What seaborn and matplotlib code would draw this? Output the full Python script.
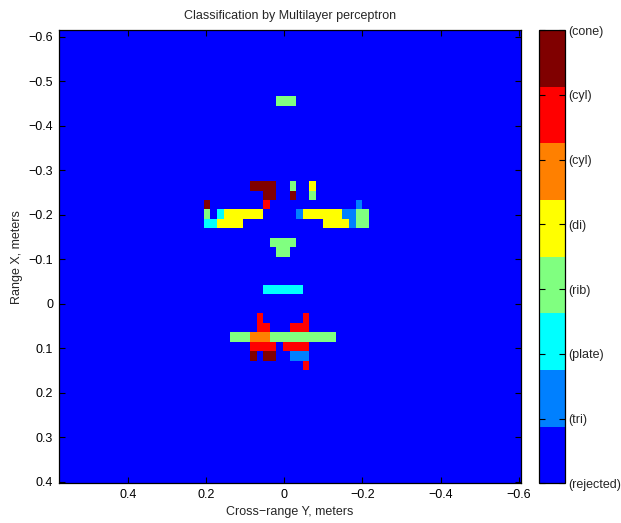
import numpy as np
import matplotlib
matplotlib.use("Agg")
import matplotlib.pyplot as plt
from matplotlib.colors import ListedColormap
import seaborn as sns

# Grid of classified cells (rows top->bottom, cols left->right)
n_rows = 48
n_cols = 70

# axis value at the edges of the image
x_left, x_right = 0.577, -0.605
y_top, y_bottom = -0.615, 0.404

class_labels = ['(rejected)', '(tri)', '(plate)', '(rib)', '(di)', '(cyl)', '(cyl)', '(cone)']
class_colors = ['#0000ff', '#0080ff', '#00ffff', '#80ff80',
                '#ffff00', '#ff8000', '#ff0000', '#800000']

# runs of cells that are not rejected: row, first col, last col, class
run_row = [7, 16, 16, 16, 17, 17, 17, 18, 18, 18,
           19, 19, 19, 19, 19, 19, 19, 19,
           20, 20, 20, 20, 20, 22, 23, 27,
           30, 30, 31, 31, 32, 32, 32, 33, 33, 34, 34, 34, 35]
run_first = [33, 29, 35, 38, 31, 35, 38, 22, 31, 45,
             22, 24, 25, 36, 37, 43, 45, 46,
             22, 24, 40, 44, 45, 32, 33, 31,
             30, 37, 30, 35, 26, 29, 32, 29, 34, 29, 31, 35, 37]
run_last = [35, 32, 35, 38, 32, 35, 38, 22, 31, 45,
            22, 24, 30, 36, 42, 44, 45, 46,
            23, 27, 43, 44, 46, 35, 34, 36,
            30, 37, 31, 37, 28, 31, 41, 32, 37, 29, 32, 37, 37]
run_class = [3, 7, 3, 4, 7, 7, 3, 7, 6, 1,
             3, 2, 4, 1, 4, 1, 3, 3,
             2, 4, 4, 1, 3, 3, 3, 2,
             6, 6, 6, 6, 3, 5, 3, 6, 6, 7, 7, 1, 6]

grid = np.zeros((n_rows, n_cols), dtype=int)
for r, c0, c1, k in zip(run_row, run_first, run_last, run_class):
    grid[r, c0:c1 + 1] = k

x_ticks = [0.4, 0.2, 0.0, -0.2, -0.4, -0.6]
y_ticks = [-0.6, -0.5, -0.4, -0.3, -0.2, -0.1, 0.0, 0.1, 0.2, 0.3, 0.4]


def fmt(v):
    s = '%g' % round(v, 2)
    return s.replace('-', '\u2212')


sns.set_style('white')
plt.rcParams['font.family'] = ['Liberation Sans', 'DejaVu Sans']
plt.rcParams['font.size'] = 9

fig = plt.figure(figsize=(6.21, 5.23), dpi=100)
ax = fig.add_axes([0.0945, 0.0759, 0.744, 0.8667])
cax = fig.add_axes([0.8685, 0.0759, 0.0414, 0.8667])

cmap = ListedColormap(class_colors)
sns.heatmap(grid, cmap=cmap, vmin=0, vmax=7, ax=ax, cbar_ax=cax,
            xticklabels=False, yticklabels=False, linewidths=0)

# ticks in cell coordinates
xpos = [(x_left - v) / (x_left - x_right) * n_cols for v in x_ticks]
ypos = [(v - y_top) / (y_bottom - y_top) * n_rows for v in y_ticks]
ax.set_xticks(xpos)
ax.set_xticklabels([fmt(v) for v in x_ticks])
ax.set_yticks(ypos)
ax.set_yticklabels([fmt(v) for v in y_ticks], rotation=0)
ax.set_axisbelow(False)
ax.tick_params(which='major', direction='in', length=4, width=0.8,
               top=True, right=True, bottom=True, left=True,
               labelsize=9, color='black', labelcolor='black', pad=4)
for sp in ax.spines.values():
    sp.set_visible(True)
    sp.set_color('black')
    sp.set_linewidth(0.9)
    sp.set_zorder(5)

ax.set_xlabel('Cross\u2212range Y, meters', fontsize=9, labelpad=4)
ax.set_ylabel('Range X, meters', fontsize=9, labelpad=4)
ax.set_title('Classification by Multilayer perceptron', fontsize=9, pad=8)

cbar = ax.collections[0].colorbar
cbar.set_ticks(range(8))
cbar.set_ticklabels(class_labels)
cax.set_axisbelow(False)
cax.tick_params(direction='in', length=4, width=0.8, left=True, right=True,
                color='black', labelsize=9, pad=2)
cbar.outline.set_edgecolor('black')
cbar.outline.set_linewidth(0.9)

fig.savefig('out.png', dpi=100)
